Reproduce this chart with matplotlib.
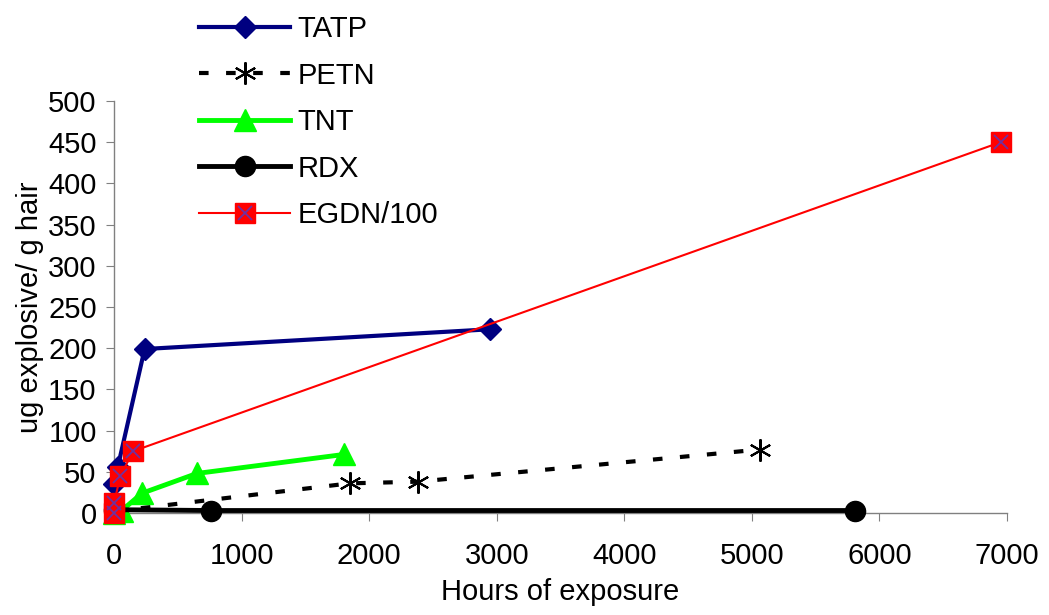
import matplotlib
matplotlib.use("Agg")
import matplotlib.pyplot as plt

plt.rcParams['font.family'] = ['Liberation Sans', 'DejaVu Sans']

# data
tatp_x = [0, 30, 240, 2950]
tatp_y = [35, 56, 199, 223]
petn_x = [0, 1850, 2380, 5060]
petn_y = [2, 36, 38, 77]
tnt_x = [0, 60, 220, 650, 1800]
tnt_y = [0, 3, 24, 48, 71]
rdx_x = [0, 760, 5810]
rdx_y = [4, 3, 3]
egdn_x = [0, 0, 50, 150, 6950]
egdn_y = [0, 12, 45, 75, 450]

fig = plt.figure(figsize=(10.49, 6.15), dpi=100)
ax = fig.add_axes([114/1049, 1 - 513/615, (1007-114)/1049, (513-101)/615])

h1, = ax.plot(tatp_x, tatp_y, color='#000080', lw=3, marker='D', ms=11.5,
              clip_on=False, zorder=3, label='TATP')
h2, = ax.plot(petn_x, petn_y, color='black', lw=3, dashes=(2.3, 4.2),
              marker=(6, 2, 0), ms=16, mew=1.5, clip_on=False, zorder=4, label='PETN')
h3, = ax.plot(tnt_x, tnt_y, color='#00ff00', lw=3.5, marker='^', ms=16,
              clip_on=False, zorder=5, label='TNT')
h4, = ax.plot(rdx_x, rdx_y, color='black', lw=3.5, marker='o', ms=14.5,
              clip_on=False, zorder=6, label='RDX')
h5, = ax.plot(egdn_x, egdn_y, color='red', lw=1.5, marker='s', ms=15,
              clip_on=False, zorder=7, label='EGDN/100')
h5x, = ax.plot(egdn_x, egdn_y, ls='none', marker='x', ms=10, mew=1.3,
               color='#7030a0', clip_on=False, zorder=8)

ax.set_xlim(0, 7000)
ax.set_ylim(0, 500)
ax.set_xticks(range(0, 7001, 1000))
ax.set_yticks(range(0, 501, 50))
for s in ['top', 'right']:
    ax.spines[s].set_visible(False)
for s in ['left', 'bottom']:
    ax.spines[s].set_color('#808080')
    ax.spines[s].set_linewidth(1)
ax.tick_params(direction='out', length=6, color='#808080', labelsize=21)
ax.tick_params(axis='x', pad=15)
ax.tick_params(axis='y', pad=6.5)

ax.set_xlabel('Hours of exposure', fontsize=21, labelpad=6)
ax.set_ylabel('ug explosive/ g hair', fontsize=21, labelpad=3)

fig.legend([h1, h2, h3, h4, (h5, h5x)], ['TATP', 'PETN', 'TNT', 'RDX', 'EGDN/100'],
           loc='upper left', bbox_to_anchor=(199/1049, 1 - 15/615),
           frameon=False, fontsize=21, handlelength=3.12, handletextpad=0.27,
           labelspacing=0.635, borderpad=0, borderaxespad=0)

fig.savefig('out.png', dpi=100, facecolor='white')
